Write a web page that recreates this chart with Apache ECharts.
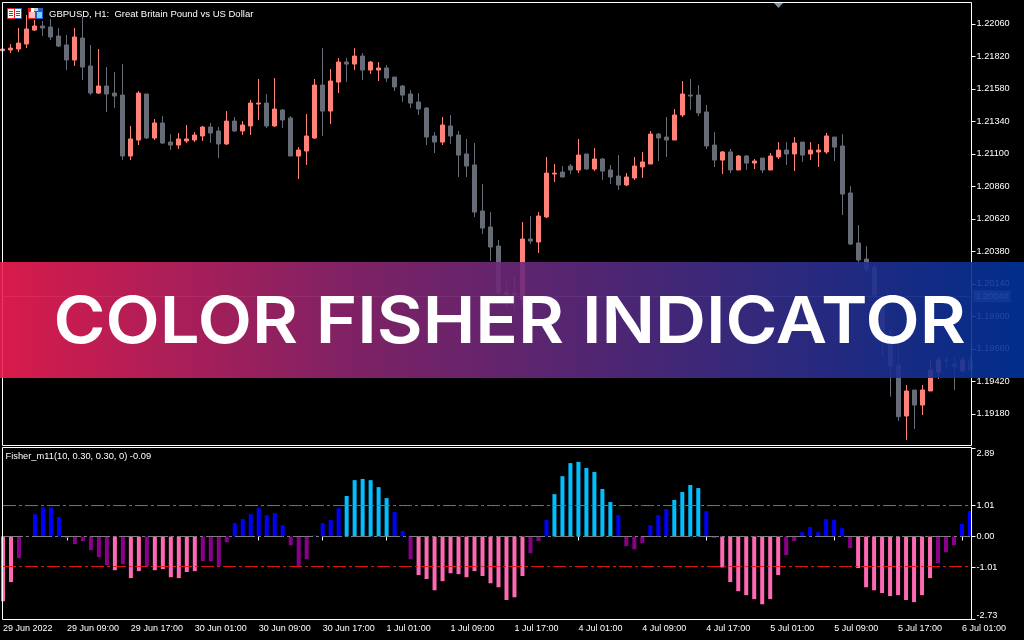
<!DOCTYPE html>
<html><head><meta charset="utf-8">
<style>html,body{margin:0;padding:0;background:#000}#c{width:1024px;height:640px}</style>
<script src="https://cdn.jsdelivr.net/npm/echarts@6/dist/echarts.min.js"></script>
</head><body><div id="c"></div>
<script>
// Prices are in points (1 point = 0.00001)
const opens=[121862,121867,121874,121911,122014,122044,122037,121970,121904,121793,121955,121749,121549,121601,121549,121534,121084,121202,121542,121217,121328,121187,121165,121195,121202,121232,121298,121269,121173,121342,121269,121306,121468,121475,121306,121424,121365,121084,121121,121217,121608,121416,121630,121778,121763,121822,121719,121719,121734,121667,121601,121542,121483,121438,121232,121187,121306,121239,121099,121018,120678,120560,120419,120077,120072,120023,120471,120449,120634,120951,120966,121010,120981,121099,120988,121062,120981,120936,120870,120922,121003,121025,121246,121224,121202,121387,121534,121534,121409,121165,121054,121114,120981,121084,121032,121069,120981,121077,121128,121099,121187,121099,121114,121114,121224,121158,120811,120442,120323,120264,119986,119752,119541,119164,119356,119245,119349,119489,119578,119548,119496,119570];
const closes=[121874,121881,121918,122022,122044,122029,121963,121896,121793,121963,121741,121549,121601,121542,121527,121084,121210,121549,121217,121328,121180,121165,121210,121210,121239,121298,121254,121173,121342,121269,121313,121475,121475,121306,121431,121350,121084,121128,121232,121608,121416,121638,121778,121763,121822,121719,121778,121734,121660,121594,121534,121475,121431,121224,121187,121313,121232,121091,121010,120670,120552,120412,120075,120062,120058,120471,120456,120641,120958,120958,120929,120981,121091,120988,121062,120973,120929,120870,120929,121010,121040,121246,121217,121202,121387,121542,121527,121402,121158,121054,121114,120981,121084,121032,121047,120981,121084,121128,121099,121180,121091,121128,121128,121232,121150,120803,120434,120316,120250,120058,119755,119533,119159,119349,119245,119356,119504,119578,119570,119526,119578,119504];
const lows=[121862,121845,121852,121881,122007,121970,121941,121889,121719,121749,121645,121534,121542,121409,121438,121054,121054,121165,121210,121202,121173,121128,121136,121180,121187,121195,121180,121069,121165,121261,121239,121239,121350,121291,121298,121291,121084,120914,121018,121210,121232,121320,121549,121630,121719,121645,121690,121638,121630,121564,121483,121438,121387,121165,121106,121165,121173,120929,120929,120634,120508,120309,120058,119962,119947,119974,120434,120368,120626,120892,120929,120951,120958,120981,120973,120907,120877,120833,120862,120907,120922,121025,121047,121077,121202,121372,121424,121379,121136,121003,120951,120958,120981,120981,120988,120958,120981,121062,121018,120973,121040,121054,121003,121099,121047,120648,120427,120286,120220,120033,119600,119307,119127,118987,119068,119171,119349,119437,119519,119356,119489,119496];
const highs=[121874,121911,122029,122125,122088,122081,122096,122029,121978,122029,122113,121904,121874,121741,121704,121763,121306,121564,121542,121357,121379,121246,121254,121313,121261,121306,121328,121298,121416,121372,121342,121498,121653,121542,121660,121431,121379,121150,121394,121653,121881,121726,121808,121808,121881,121845,121786,121778,121756,121667,121608,121571,121549,121446,121261,121372,121387,121269,121210,121180,120877,120670,120464,120154,120198,120597,120641,120670,121077,121025,121010,121025,121210,121099,121143,121069,121018,121091,120958,121077,121114,121269,121254,121372,121431,121638,121653,121608,121461,121261,121121,121136,121091,121091,121062,121069,121106,121187,121187,121224,121187,121187,121173,121254,121224,121246,120862,120574,120419,120296,120045,119799,119688,119393,119356,119393,119578,119600,119600,119600,119600,119607];
const fisher=[-2.13,-1.50,-0.71,-0.02,0.73,0.96,0.96,0.64,-0.05,-0.25,-0.15,-0.45,-0.68,-0.94,-1.11,-0.91,-1.37,-1.14,-0.98,-1.11,-1.07,-1.34,-1.37,-1.17,-1.14,-0.81,-0.81,-0.98,-0.19,0.44,0.57,0.73,0.93,0.70,0.77,0.37,-0.29,-0.98,-0.75,0.04,0.44,0.54,0.93,1.33,1.85,1.89,1.85,1.62,1.26,0.80,0.18,-0.75,-1.27,-1.40,-1.77,-1.47,-1.21,-1.24,-1.34,-1.14,-1.30,-1.54,-1.67,-2.09,-2.00,-1.30,-0.55,-0.15,0.54,1.39,1.98,2.41,2.45,2.25,2.12,1.56,1.13,0.70,-0.32,-0.42,-0.22,0.37,0.70,0.90,1.20,1.46,1.69,1.59,0.83,-0.05,-1.02,-1.50,-1.80,-1.93,-2.06,-2.23,-2.06,-1.27,-0.61,-0.15,0.14,0.31,0.14,0.57,0.54,0.27,-0.38,-1.04,-1.67,-1.77,-1.86,-1.96,-1.93,-2.09,-2.16,-1.93,-1.37,-0.88,-0.52,-0.29,0.41,0.83];
const timeLabels=['29 Jun 2022','29 Jun 09:00','29 Jun 17:00','30 Jun 01:00','30 Jun 09:00','30 Jun 17:00','1 Jul 01:00','1 Jul 09:00','1 Jul 17:00','4 Jul 01:00','4 Jul 09:00','4 Jul 17:00','5 Jul 01:00','5 Jul 09:00','5 Jul 17:00','6 Jul 01:00'];
const priceTicks=[122060,121820,121580,121340,121100,120860,120620,120380,120140,119900,119660,119420,119180];
const fisherTicks=[-2.73,-1.01,0,1.01,2.89];
const lastPrice=120048, colorLevel=1.01;
const upperLine=[1.015], zeroLine=[-0.002], lowerLine=[-0.99];
const categories=opens.map((_,i)=>i);

const FONT='"Liberation Sans"';
const WHITE='#ffffff', UP='#ff8278', DOWN='#666c75';
const chart=echarts.init(document.getElementById('c'),null,{renderer:'canvas'});
const frame=(y1,y2)=>({type:'rect',silent:true,z:5,shape:{x:2.5,y:y1,width:969,height:y2-y1},style:{fill:null,stroke:WHITE,lineWidth:1}});
const box=(x,y,w,h,fill)=>({type:'rect',silent:true,z:6,shape:{x,y,width:w,height:h},style:{fill}});
const every8=i=>i%8===0;
const levelSeries=(lv,color,type)=>({type:'line',xAxisIndex:1,yAxisIndex:1,symbol:'none',silent:true,z:5,clip:true,
  data:categories.map(()=>lv[0]),lineStyle:{color,type,width:1}});
chart.setOption({
  animation:false,backgroundColor:'#000000',
  title:[
    {text:'GBPUSD, H1:  Great Britain Pound vs US Dollar',left:49,top:9,padding:0,textStyle:{color:WHITE,fontFamily:FONT,fontSize:9.5,fontWeight:'normal',lineHeight:11}},
    {text:'Fisher_m11(10, 0.30, 0.30, 0) -0.09',left:5.5,top:451,padding:0,textStyle:{color:WHITE,fontFamily:FONT,fontSize:9.3,fontWeight:'normal',lineHeight:11}}
  ],
  grid:[
    {left:2.5,width:968,top:3,height:442},
    {left:2,width:968,top:448.5,height:171}
  ],
  xAxis:[
    {type:'category',gridIndex:0,data:categories,boundaryGap:false,axisLine:{show:false},axisTick:{show:false},axisLabel:{show:false},splitLine:{show:false}},
    {type:'category',gridIndex:1,data:categories,boundaryGap:false,axisLine:{show:false},
     axisTick:{show:true,interval:every8,length:4,lineStyle:{color:WHITE}},
     axisLabel:{interval:every8,align:'left',margin:5,color:WHITE,fontFamily:FONT,fontSize:9,formatter:v=>timeLabels[+v/8],showMinLabel:true,showMaxLabel:true,hideOverlap:false},splitLine:{show:false}}
  ],
  yAxis:[
    {type:'value',gridIndex:0,position:'right',offset:1,min:118950,max:122214,scale:true,
     axisLine:{show:false},splitLine:{show:false},
     axisTick:{show:true,length:4,lineStyle:{color:WHITE},customValues:priceTicks},
     axisLabel:{margin:5,color:WHITE,fontFamily:FONT,fontSize:9.2,customValues:priceTicks,formatter:v=>(v/1e5).toFixed(5)}},
    {type:'value',gridIndex:1,position:'right',offset:1.5,min:-2.73,max:2.89,
     axisLine:{show:false},splitLine:{show:false},
     axisTick:{show:true,length:4,lineStyle:{color:WHITE},customValues:fisherTicks},
     axisLabel:{margin:5,color:WHITE,fontFamily:FONT,fontSize:9.2,customValues:fisherTicks,verticalAlignMinLabel:'bottom',verticalAlignMaxLabel:'top',formatter:v=>v.toFixed(2)}}
  ],
  series:[
    {type:'candlestick',name:'GBPUSD',xAxisIndex:0,yAxisIndex:0,barWidth:4,clip:true,
     data:opens.map((o,i)=>[o,closes[i],lows[i],highs[i]]),
     itemStyle:{color:UP,color0:DOWN,borderColor:UP,borderColor0:DOWN,borderWidth:1},
     markLine:{silent:true,symbol:'none',animation:false,
       data:[{yAxis:lastPrice}],
       lineStyle:{color:DOWN,type:'solid',width:1},
       label:{position:'end',distance:3,color:WHITE,backgroundColor:DOWN,padding:[2,2,1,2],fontFamily:FONT,fontSize:9.2,formatter:()=>(lastPrice/1e5).toFixed(5)}}},
    {type:'bar',name:'Fisher',xAxisIndex:1,yAxisIndex:1,barWidth:4,clip:true,
     data:fisher,
     itemStyle:{color:p=>p.value>colorLevel?'#00bfff':p.value>0?'#0000ff':p.value<-colorLevel?'#ff69b4':'#8b008b'}},
    levelSeries(upperLine,'#00b36b',[13,3,3,3]),
    levelSeries(zeroLine,'#808080',[20,3,3,3]),
    levelSeries(lowerLine,'#f01414',[13,3,3,3])
  ],
  graphic:[
    frame(2.5,445.5),frame(447.5,619.5),
    {type:'polygon',silent:true,z:6,shape:{points:[[774,3],[783,3],[778.5,8]]},style:{fill:'#7a96ad'}},
    box(7,8,8,11,'#e02020'),box(8,9,6,9,'#ffffff'),box(9,11,4,1,'#e02020'),box(9,13,4,1,'#e02020'),box(9,15,4,1,'#e02020'),
    box(15,8,7,11,'#1c5fc8'),box(15,9,6,9,'#ffffff'),box(16,11,4,1,'#1c5fc8'),box(16,13,4,1,'#1c5fc8'),box(16,15,4,1,'#1c5fc8'),
    box(28,8,8,11,'#e02020'),box(29,12,6,6,'#ffc0c0'),box(31,8,3,4,'#ffffff'),
    box(36,8,7,11,'#1c5fc8'),box(37,12,5,6,'#7cd0ff'),box(34,8,4,3,'#c8c8c8'),
    {type:'rect',silent:true,z:100,shape:{x:0,y:262,width:1024,height:116},
     style:{opacity:0.9,fill:new echarts.graphic.LinearGradient(0,0,1,0,[
       {offset:0,color:'#f01e53'},{offset:0.33,color:'#90256f'},{offset:1,color:'#003299'}])}},
    {type:'text',silent:true,z:101,x:53.5,y:323.5,scaleX:1.086,style:{text:'COLOR FISHER INDICATOR',fill:'#ffffff',fontFamily:'Inter',fontWeight:600,fontSize:65,textVerticalAlign:'middle'}}
  ]
});
</script></body></html>
